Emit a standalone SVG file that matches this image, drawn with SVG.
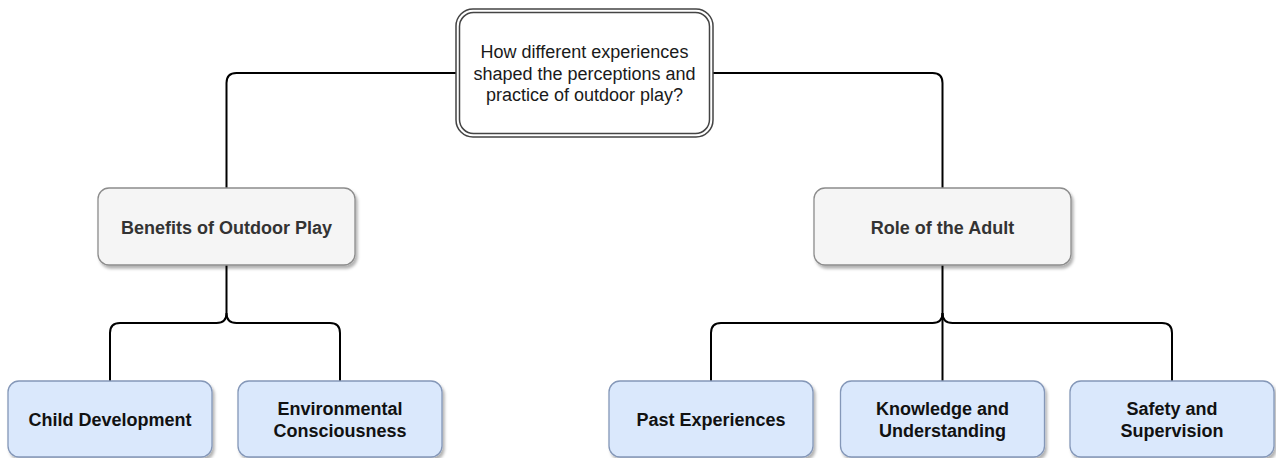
<svg xmlns="http://www.w3.org/2000/svg" width="1276" height="458" viewBox="0 0 1276 458">
<style>
  .edge { fill: none; stroke: #000; stroke-width: 2; }
  .gray { fill: #f5f5f5; stroke: #8c8c8c; stroke-width: 1.3; filter: url(#sh); }
  .blue { fill: #dae8fc; stroke: #8497b8; stroke-width: 1.3; filter: url(#sh); }
  .top-o { fill: #fff; stroke: #444; stroke-width: 1.5; }
  .top-i { fill: none; stroke: #444; stroke-width: 1.5; }
  text { font-family: "Liberation Sans", Arial, sans-serif; font-size: 18px; text-anchor: middle; }
  .q { fill: #1a1a1a; }
  .g { fill: #333; font-weight: bold; }
  .b { fill: #111; font-weight: bold; }
</style>
<defs>
  <filter id="sh" x="-10%" y="-10%" width="130%" height="140%">
    <feDropShadow dx="2" dy="3" stdDeviation="1.5" flood-color="#000" flood-opacity="0.3"/>
  </filter>
</defs>
<rect width="1276" height="458" fill="#fff"/>
<g id="connectors">
  <path class="edge" d="M456,73 H236.5 Q226.5,73 226.5,83 V188"/>
  <path class="edge" d="M713,73 H932.5 Q942.5,73 942.5,83 V188"/>
  <path class="edge" d="M226.5,265 V313 Q226.5,323 216.5,323 H120 Q110,323 110,333 V381"/>
  <path class="edge" d="M226.5,313 Q226.5,323 236.5,323 H330 Q340,323 340,333 V381"/>
  <path class="edge" d="M942.5,265 V381"/>
  <path class="edge" d="M942.5,313 Q942.5,323 932.5,323 H721 Q711,323 711,333 V381"/>
  <path class="edge" d="M942.5,313 Q942.5,323 952.5,323 H1162 Q1172,323 1172,333 V381"/>
</g>
<g id="root">
  <rect class="top-o" x="456" y="9" width="257" height="128" rx="17"/>
  <rect class="top-i" x="459.5" y="12.5" width="250" height="121" rx="14"/>
  <text class="q" x="584.5" y="58">How different experiences</text>
  <text class="q" x="584.5" y="79.5">shaped the perceptions and</text>
  <text class="q" x="584.5" y="101">practice of outdoor play?</text>
</g>
<g id="benefits">
  <rect class="gray" x="98" y="188" width="257" height="77" rx="11"/>
  <text class="g" x="226.5" y="233.5">Benefits of Outdoor Play</text>
</g>
<g id="role">
  <rect class="gray" x="814" y="188" width="257" height="77" rx="11"/>
  <text class="g" x="942.5" y="233.5">Role of the Adult</text>
</g>
<g id="child">
  <rect class="blue" x="8" y="381" width="204" height="76" rx="11"/>
  <text class="b" x="110" y="425.5">Child Development</text>
</g>
<g id="environmental">
  <rect class="blue" x="238" y="381" width="204" height="76" rx="11"/>
  <text class="b" x="340" y="415">Environmental</text>
  <text class="b" x="340" y="436.5">Consciousness</text>
</g>
<g id="past">
  <rect class="blue" x="609" y="381" width="204" height="76" rx="11"/>
  <text class="b" x="711" y="425.5">Past Experiences</text>
</g>
<g id="knowledge">
  <rect class="blue" x="840.5" y="381" width="204" height="76" rx="11"/>
  <text class="b" x="942.5" y="415">Knowledge and</text>
  <text class="b" x="942.5" y="436.5">Understanding</text>
</g>
<g id="safety">
  <rect class="blue" x="1070" y="381" width="204" height="76" rx="11"/>
  <text class="b" x="1172" y="415">Safety and</text>
  <text class="b" x="1172" y="436.5">Supervision</text>
</g>
</svg>
